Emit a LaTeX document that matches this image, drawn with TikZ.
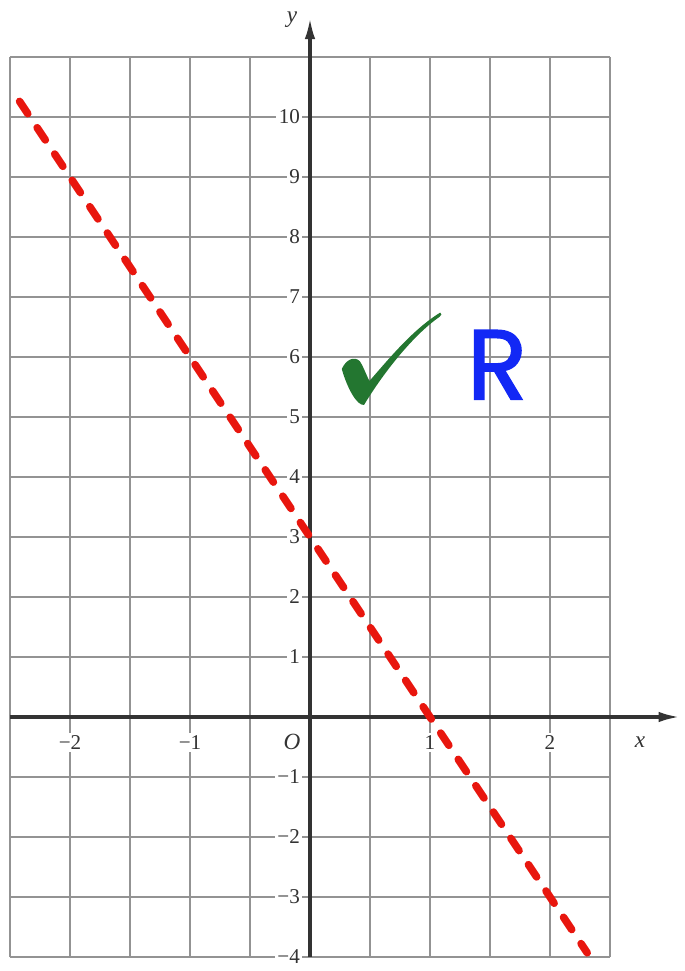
\documentclass[tikz,border=0pt]{standalone}
\usepackage{fontspec}
\setmainfont{Liberation Serif}
\newfontfamily\handfont{Poppins}[UprightFeatures={FakeBold=1.6}]
\usetikzlibrary{arrows.meta}

\definecolor{redline}{RGB}{232,22,14}
\definecolor{checkgreen}{RGB}{35,118,48}
\definecolor{penblue}{RGB}{18,40,245}

\begin{document}
\begin{tikzpicture}[
        x=2cm, y=1cm,
        gridline/.style = {draw=gray!85, line width=0.9pt},
        axisline/.style = {draw=black!80, line width=1.5pt, -{Latex[length=10pt,width=5pt]}},
        ticklabel/.style = {fill=white, inner sep=1.2pt, text=black!80, font=\fontsize{10}{12}\selectfont},
        axislabel/.style = {inner sep=0pt, text=black!80, font=\fontsize{11}{13}\selectfont\itshape},
        graphline/.style = {draw=redline, line width=3.6pt, dash pattern=on 7pt off 8pt, line cap=round}
        ]
        \useasboundingbox (-2.5833,-4.2333) rectangle (3.1167,11.95);
        % grid
        \foreach \gx in {-2.5,-2,...,2.5}
                \draw[gridline] (\gx,-4) -- (\gx,11);
        \foreach \gy in {-4,...,11}
                \draw[gridline] (-2.5,\gy) -- (2.5,\gy);
        % tick labels
        \foreach \ty/\tl in {10/10,9/9,8/8,7/7,6/6,5/5,4/4,3/3,2/2,1/1,-1/−1,-2/−2,-3/−3,-4/−4}
                \node[ticklabel, anchor=east] (yl\ty) at (-0.06,\ty) {\tl};
        \foreach \tx/\tl in {-2/−2,-1/−1,1/1,2/2}
                \node[ticklabel] (xl\tx) at (\tx,-0.42) {\tl};
        % axes
        \draw[axisline] (-2.5,0) -- (3.08,0);
        \draw[axisline] (0,-4) -- (0,11.65);
        \node[axislabel] (xname) at (2.75,-0.42) {x};
        \node[axislabel] (yname) at (-0.15,11.62) {y};
        \node[axislabel] (origin) at (-0.15,-0.42) {O};
        % the line y = 3 - 3x
        \draw[graphline] (-2.42,10.26) -- (2.31,-3.93);
        % tick and letter
        \fill[checkgreen] (0.265,5.80) .. controls (0.30,5.96) and (0.37,6.02) .. (0.415,5.93)
                .. controls (0.44,5.86) and (0.47,5.70) .. (0.495,5.60)
                .. controls (0.65,5.95) and (0.85,6.45) .. (1.085,6.74)
                .. controls (1.10,6.72) and (1.10,6.70) .. (1.08,6.67)
                .. controls (0.85,6.35) and (0.60,5.70) .. (0.45,5.20)
                .. controls (0.39,5.19) and (0.31,5.48) .. cycle;
        \node[text=penblue, font=\handfont\fontsize{47}{50}\selectfont] (mark) at (1.56,5.87) {R};
\end{tikzpicture}
\end{document}
